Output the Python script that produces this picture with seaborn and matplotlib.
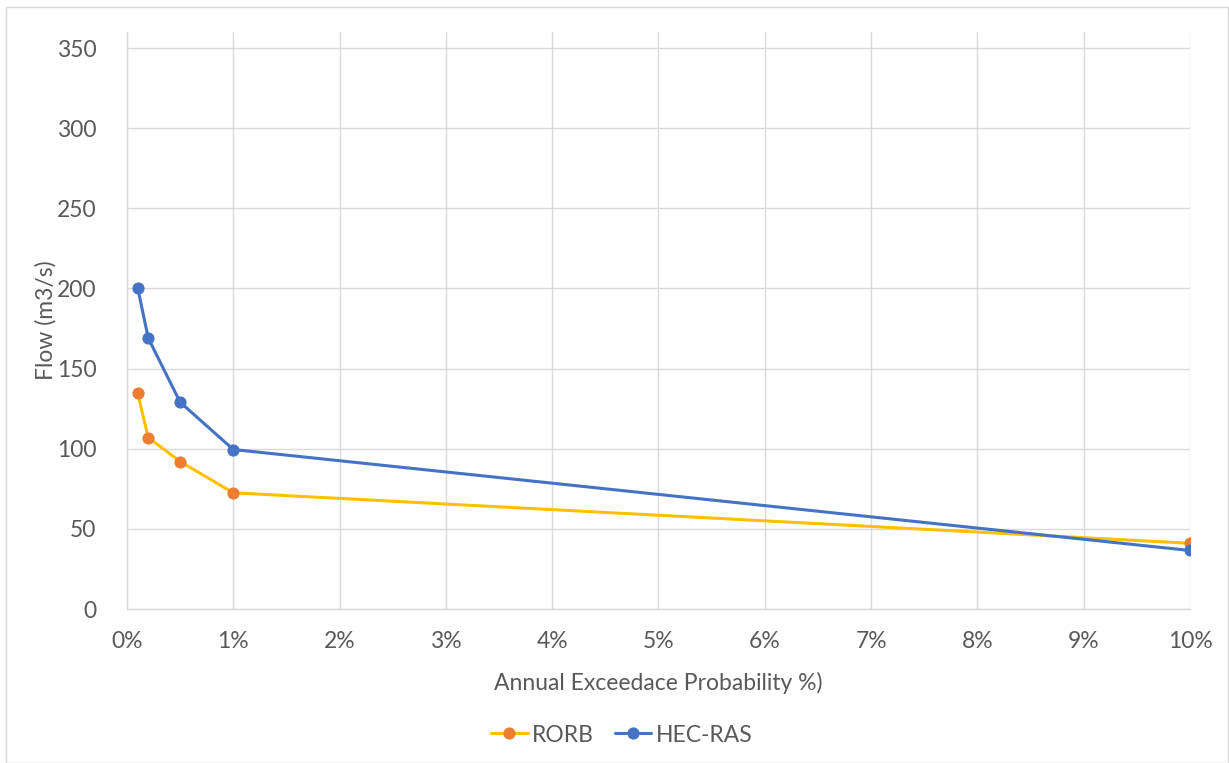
import matplotlib
matplotlib.use("Agg")
import matplotlib.pyplot as plt
import seaborn as sns
import pandas as pd
from matplotlib.patches import Rectangle
from matplotlib.ticker import FuncFormatter

aep = [0.1, 0.2, 0.5, 1, 10]
rorb = [134.5, 107, 92, 72.5, 41]
hecras = [200.5, 169, 129, 99.5, 36.5]
x_ticks = [0, 1, 2, 3, 4, 5, 6, 7, 8, 9, 10]
y_ticks = [0, 50, 100, 150, 200, 250, 300, 350]

sns.set_theme(style="white")
plt.rcParams['font.family'] = ['Lato', 'DejaVu Sans']
txt = '#595959'
fs = 16.5

fig = plt.figure(figsize=(12.29, 7.63), dpi=100)
ax = fig.add_axes([127/1229, 1-609/763, (1190-127)/1229, (609-32)/763])

df_r = pd.DataFrame({'x': aep, 'y': rorb})
df_h = pd.DataFrame({'x': aep, 'y': hecras})
sns.lineplot(data=df_r, x='x', y='y', ax=ax, color='#FFC000', lw=2.2, marker='o',
             markersize=8, markerfacecolor='#ED7D31', markeredgecolor='#ED7D31',
             label='RORB', zorder=3)
sns.lineplot(data=df_h, x='x', y='y', ax=ax, color='#4472C4', lw=2.2, marker='o',
             markersize=8, markerfacecolor='#4472C4', markeredgecolor='#4472C4',
             label='HEC-RAS', zorder=4)

ax.set_xlim(0, 10)
ax.set_ylim(0, 360)
ax.set_xticks(x_ticks)
ax.set_yticks(y_ticks)
ax.xaxis.set_major_formatter(FuncFormatter(lambda v, p: f"{int(v)}%"))
ax.grid(True, color='#D9D9D9', lw=1)
ax.set_axisbelow(True)
for s in ['top', 'right']:
    ax.spines[s].set_visible(False)
for s in ['left', 'bottom']:
    ax.spines[s].set_color('#D9D9D9')
    ax.spines[s].set_linewidth(1)
ax.tick_params(axis='y', length=0, labelsize=fs, colors=txt, pad=22)
ax.tick_params(axis='x', length=0, labelsize=fs, colors=txt, pad=16)
ax.set_xlabel('Annual Exceedace Probability %)', fontsize=fs, color=txt, labelpad=14)
ax.set_ylabel('Flow (m3/s)', fontsize=fs, color=txt, labelpad=0)

handles, labels = ax.get_legend_handles_labels()
ax.get_legend().remove()
leg = fig.legend(handles, labels, loc='center', bbox_to_anchor=(0.506, 1-735/763), ncol=2,
                 frameon=False, fontsize=fs, handlelength=1.6, columnspacing=0.9,
                 handletextpad=0.2)
for t in leg.get_texts():
    t.set_color(txt)

fig.patches.append(Rectangle((6/1229, 0), 1-7/1229, 1-7/763, transform=fig.transFigure,
                             fill=False, edgecolor='#D9D9D9', lw=1))

fig.savefig('out.png', dpi=100)
